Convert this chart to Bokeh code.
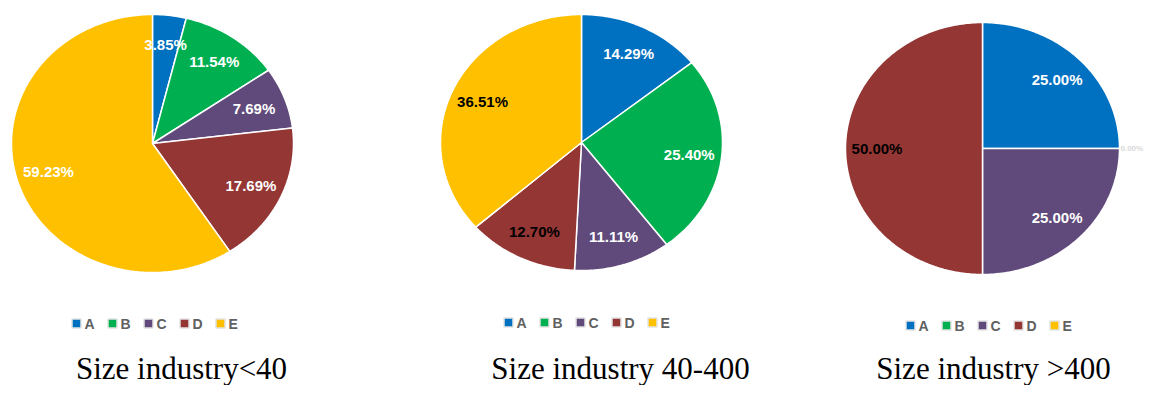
import numpy as np
from bokeh.plotting import figure
from bokeh.models import Range1d
from bokeh.core.properties import value
from bokeh.embed import file_html
from bokeh.resources import INLINE

# ---------------- data ----------------
categories = ["A", "B", "C", "D", "E"]
colors = ["#0070C0", "#00B050", "#604A7B", "#943634", "#FFC000"]
share_small = [3.85, 11.54, 7.69, 17.69, 59.23]      # Size industry<40
share_medium = [14.29, 25.40, 11.11, 12.70, 36.51]   # Size industry 40-400
share_large = [25.00, 0.00, 25.00, 50.00, 0.00]      # Size industry >400
titles = ["Size industry<40", "Size industry 40-400", "Size industry >400"]
label_colors_small = ["white", "white", "white", "white", "white"]
label_colors_medium = ["white", "white", "white", "black", "black"]
label_colors_large = ["white", "#d8d8d8", "white", "black", "black"]

# ---------------- layout (picture pixel coordinates) ----------------
W, H = 1144, 385
pies = [
    dict(vals=share_small, lcol=label_colors_small, cx=152, cy=143, rx=141, ry=129,
         leg_x=76, leg_y=323, title_x=181),
    dict(vals=share_medium, lcol=label_colors_medium, cx=581, cy=142, rx=141, ry=128,
         leg_x=508, leg_y=322, title_x=620),
    dict(vals=share_large, lcol=label_colors_large, cx=982, cy=148, rx=137, ry=126,
         leg_x=910, leg_y=325, title_x=993),
]

p = figure(width=W, height=H, output_backend="svg", toolbar_location=None,
           x_range=Range1d(0, W), y_range=Range1d(H, 0),
           min_border=0, outline_line_color=None)
p.axis.visible = False
p.grid.visible = False
p.background_fill_color = "white"
p.border_fill_color = "white"

FONT = value("Liberation Sans")

for k, pie in enumerate(pies):
    vals = np.array(pie["vals"], dtype=float)
    frac = vals / vals.sum()
    ends = np.cumsum(frac) * 2 * np.pi
    starts = ends - frac * 2 * np.pi
    cx, cy, rx, ry = pie["cx"], pie["cy"], pie["rx"], pie["ry"]
    xs, ys, fills = [], [], []
    lx, ly, ltxt, lc, lalign, lsize = [], [], [], [], [], []
    for i in range(len(vals)):
        a0, a1 = starts[i], ends[i]
        mid = 0.5 * (a0 + a1)
        if frac[i] > 0:
            t = np.linspace(a0, a1, max(int((a1 - a0) * 60), 4))
            xs.append([cx] + list(cx + rx * np.sin(t)) + [cx])
            ys.append([cy] + list(cy - ry * np.cos(t)) + [cy])
            fills.append(colors[i])
            lx.append(cx + 0.77 * rx * np.sin(mid))
            ly.append(cy - 0.77 * ry * np.cos(mid))
            lalign.append("center")
            lsize.append("15px")
        else:
            ang = mid % (2 * np.pi)
            if abs(ang) < 1e-6 or abs(ang - 2 * np.pi) < 1e-6:
                continue
            lx.append(cx + rx * np.sin(mid) + 1)
            ly.append(cy - ry * np.cos(mid))
            lalign.append("left")
            lsize.append("8px")
        ltxt.append("%.2f%%" % vals[i])
        lc.append(pie["lcol"][i])
    p.patches(xs=xs, ys=ys, fill_color=fills, line_color="white", line_width=1.5)
    for x_, y_, t_, c_, a_, s_ in zip(lx, ly, ltxt, lc, lalign, lsize):
        p.text(x=[x_], y=[y_], text=[t_], text_color=c_, text_font=FONT,
               text_font_size=s_, text_font_style="bold",
               text_align=a_, text_baseline="middle")

    # legend
    lgx = [pie["leg_x"] + 36 * i for i in range(len(categories))]
    lgy = [pie["leg_y"]] * len(categories)
    p.scatter(x=lgx, y=lgy, marker="square", size=9, fill_color=colors,
              line_color="#e3e3e3", line_width=1.5)
    p.text(x=[v + 8 for v in lgx], y=lgy, text=categories, text_color="#606060",
           text_font=FONT, text_font_size="14px", text_font_style="bold",
           text_align="left", text_baseline="middle")

    # title
    p.text(x=[pie["title_x"]], y=[368], text=[titles[k]], text_color="black",
           text_font=value("Liberation Serif"), text_font_size="31px",
           text_align="center", text_baseline="middle")

open("out.html", "w").write(file_html(p, INLINE))
